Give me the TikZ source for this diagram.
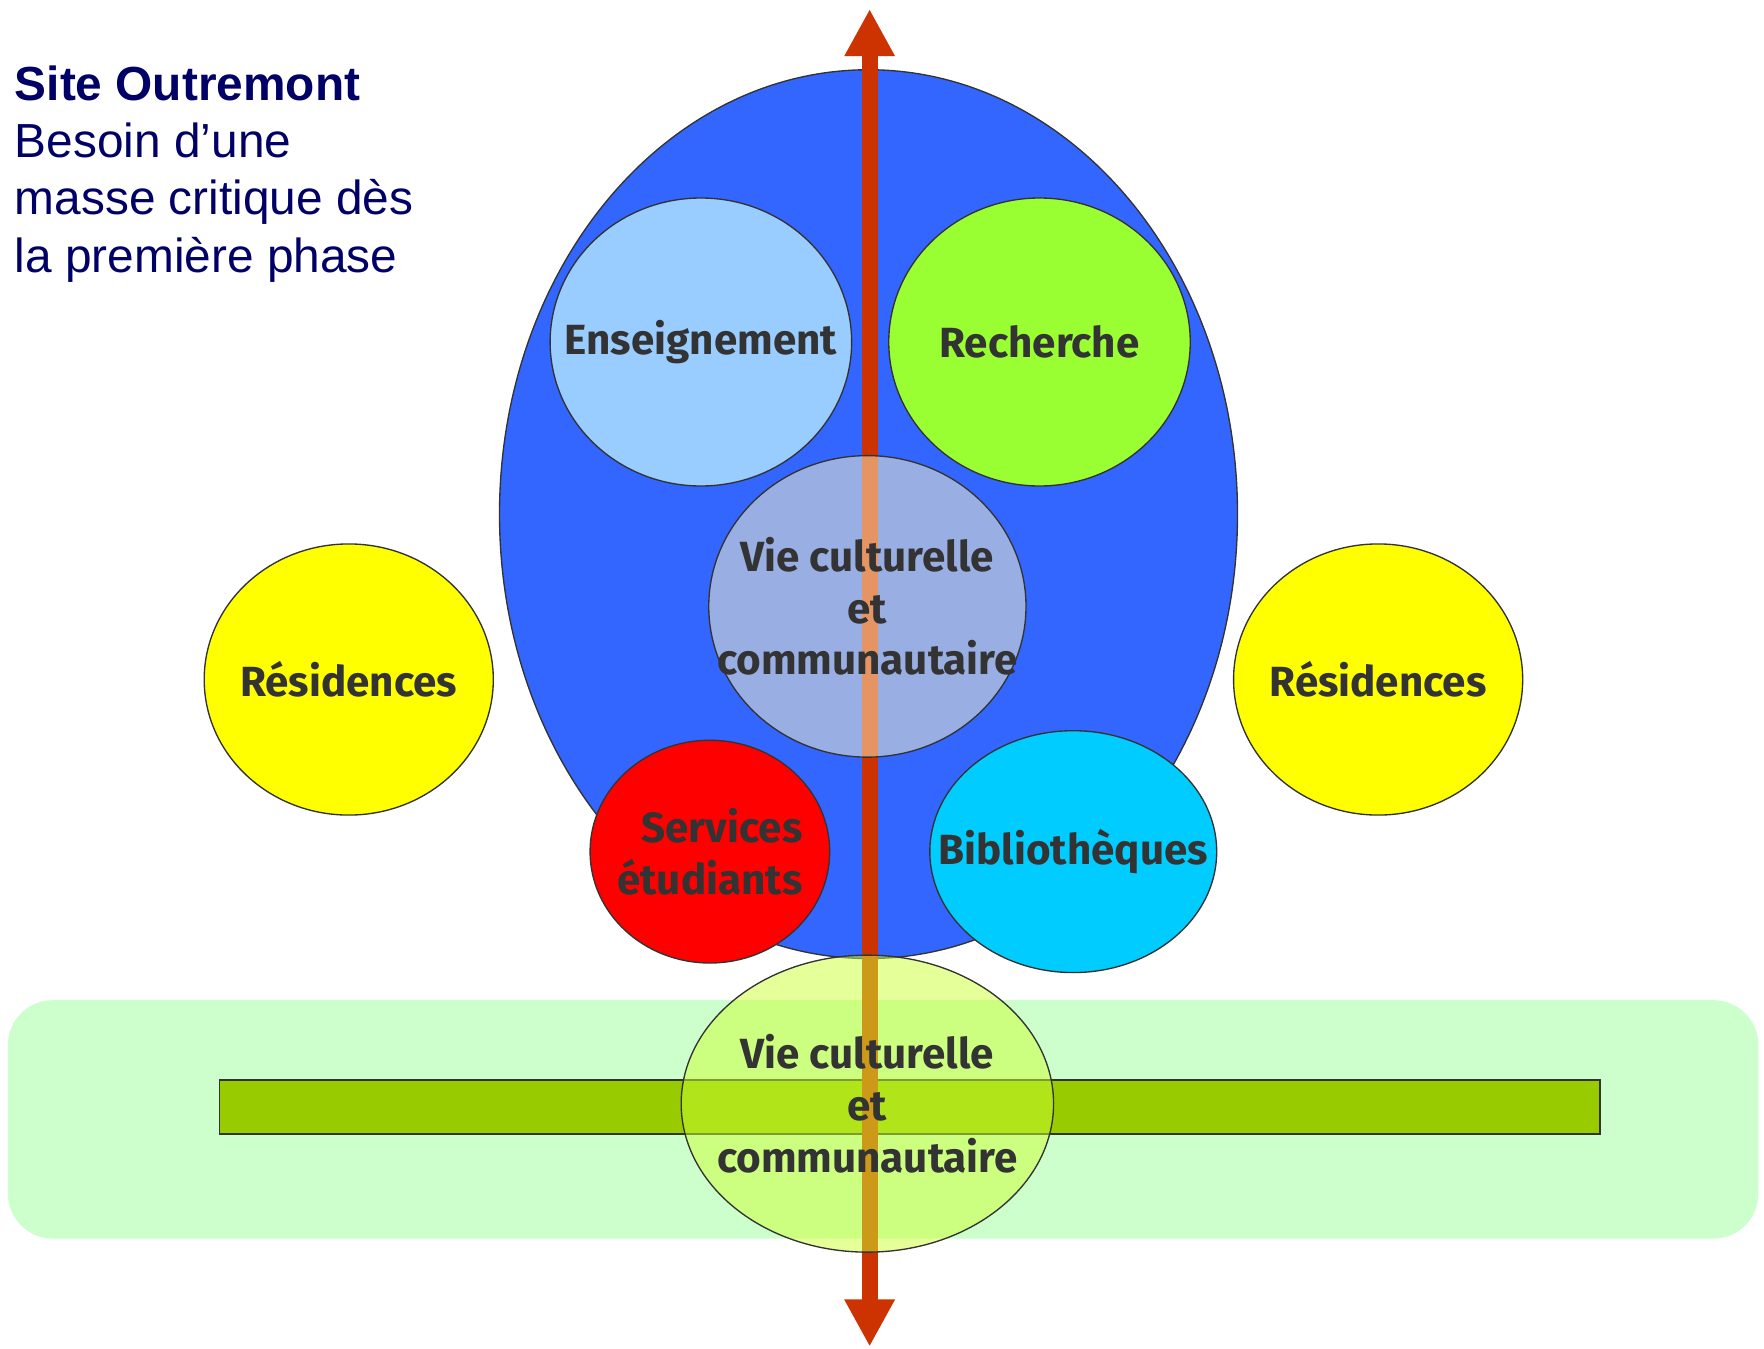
\documentclass[tikz,border=0pt]{standalone}
\usepackage{fontspec}
\setmainfont{Liberation Sans}
\newfontfamily\lblfont{Fira Sans}
\usetikzlibrary{shapes.geometric,arrows.meta}
\definecolor{navy}{HTML}{000066}
\definecolor{linegray}{HTML}{333333}
\definecolor{textgray}{HTML}{333333}
\definecolor{bigblue}{HTML}{3366FF}
\definecolor{ensblue}{HTML}{99CCFF}
\definecolor{recgreen}{HTML}{99FF33}
\definecolor{resyellow}{HTML}{FFFF00}
\definecolor{servred}{HTML}{FF0000}
\definecolor{biblcyan}{HTML}{00CCFF}
\definecolor{arrowred}{HTML}{CC3300}
\definecolor{bandgreen}{HTML}{CCFFCC}
\definecolor{bargreen}{HTML}{99CC00}
\definecolor{vieupper}{HTML}{FFF8C8}
\definecolor{vielower}{HTML}{CCFF33}
\tikzset{
  bubble/.style={ellipse, draw=linegray, line width=1.2pt, inner sep=0pt},
  lbl/.style={font=\lblfont\bfseries\fontsize{37.5}{46}\selectfont, text=textgray, align=center, inner sep=0pt},
  titletxt/.style={font=\fontsize{42.5}{51}\selectfont, text=navy, anchor=base west, inner sep=0pt},
}
\begin{document}
\begin{tikzpicture}[x=1pt,y=-1pt]
\useasboundingbox (0,0) rectangle (1568,1199);
% band
\node[fill=bandgreen, rounded corners=40pt, minimum width=1556pt, minimum height=212pt, inner sep=0pt] (band) at (785,995) {};
\node[draw=linegray, line width=1.4pt, fill=bargreen, minimum width=1227pt, minimum height=48pt, inner sep=0pt] (bar) at (808.5,984) {};
% big blue ellipse
\node[bubble, fill=bigblue, minimum width=656pt, minimum height=790pt] (campus) at (772,457) {};
% inner bubbles
\node[bubble, fill=ensblue, minimum width=268pt, minimum height=256pt] (ens) at (623,304) {};
\node[lbl] at (ens) {Enseignement};
\node[bubble, fill=recgreen, minimum width=268pt, minimum height=256pt] (rec) at (924,304) {};
\node[lbl] at (rec) {Recherche};
\node[bubble, fill=resyellow, minimum width=257pt, minimum height=241pt] (resL) at (310,604) {};
\node[lbl] at (resL) {Résidences};
\node[bubble, fill=resyellow, minimum width=257pt, minimum height=241pt] (resR) at (1225,604) {};
\node[lbl] at (resR) {Résidences};
\node[bubble, fill=servred, minimum width=213pt, minimum height=198pt] (serv) at (631,757) {};
\node[lbl, align=right] at (serv) {Services\\étudiants};
\node[bubble, fill=biblcyan, minimum width=255pt, minimum height=215pt] (bibl) at (954,757) {};
\node[lbl] at (bibl) {Bibliothèques};
% axis arrow
\coordinate (top) at (773,8);
\coordinate (bot) at (773,1197);
\draw[arrowred, line width=14pt, {Triangle[width=42pt,length=42pt]}-{Triangle[width=42pt,length=42pt]}] (bot) -- (top);
% semi-transparent bubbles
\node[bubble, fill=vieupper, fill opacity=0.5, minimum width=282pt, minimum height=268pt] (vieU) at (771,539) {};
\node[lbl] at (vieU) {Vie culturelle\\et\\communautaire};
\node[bubble, fill=vielower, fill opacity=0.5, minimum width=331pt, minimum height=264pt] (vieL) at (771,981) {};
\node[lbl] at (vieL) {Vie culturelle\\et\\communautaire};
% title
\node[titletxt, font=\bfseries\fontsize{42.5}{51}\selectfont] (t1) at (13,89) {Site Outremont};
\node[titletxt] (t2) at (13,140) {Besoin d’une};
\node[titletxt] (t3) at (13,191) {masse critique dès};
\node[titletxt] (t4) at (13,242) {la première phase};
\end{tikzpicture}
\end{document}
